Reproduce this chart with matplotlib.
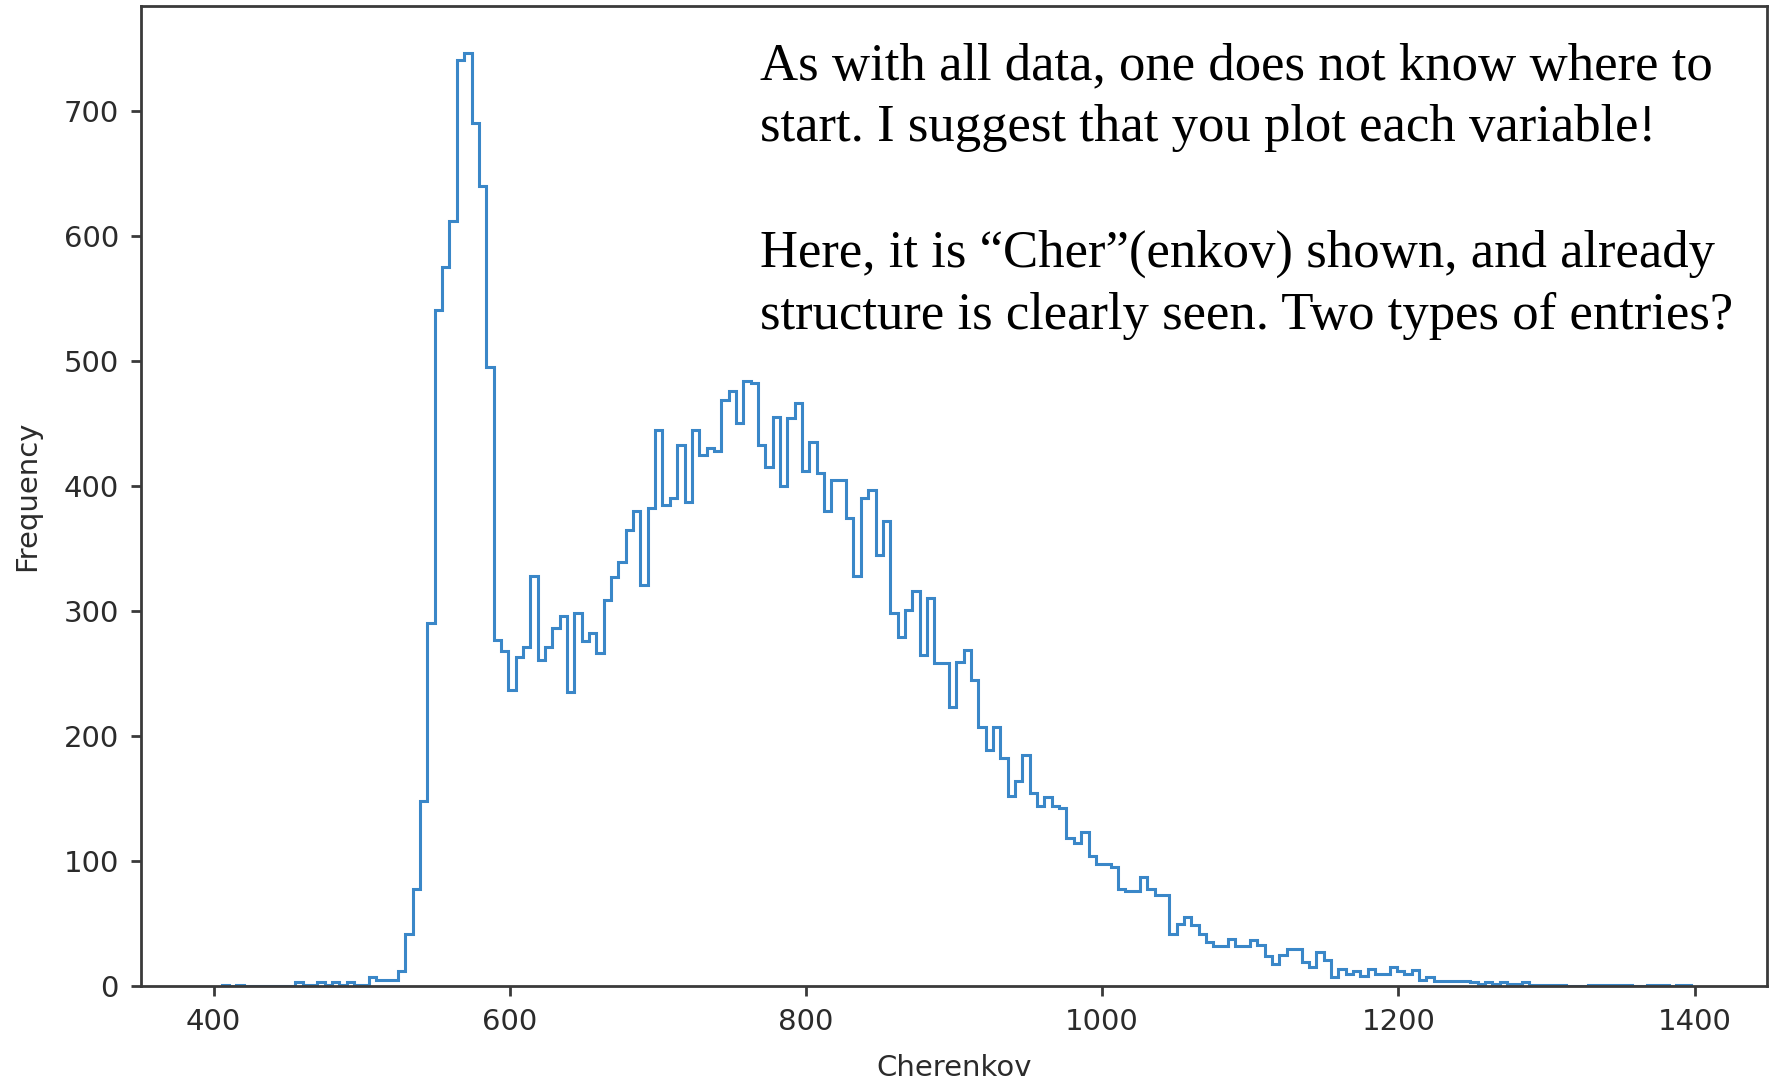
import numpy as np
import matplotlib
matplotlib.use("Agg")
import matplotlib.pyplot as plt

# histogram of the Cherenkov variable, 200 bins
x_min, x_max = 405.5, 1397.5
counts = [
    1, 0, 1, 0, 0, 0, 0, 0, 0, 0,
    3, 1, 1, 3, 1, 3, 1, 3, 1, 1,
    7, 5, 5, 5, 12, 42, 78, 148, 290, 541,
    575, 612, 741, 746, 690, 640, 495, 277, 268, 237,
    263, 271, 328, 261, 271, 286, 296, 235, 298, 276,
    282, 266, 309, 327, 339, 365, 380, 321, 382, 445,
    385, 390, 433, 387, 445, 425, 430, 428, 469, 476,
    450, 484, 482, 433, 415, 455, 400, 454, 466, 412,
    435, 410, 380, 405, 405, 374, 328, 390, 397, 345,
    372, 298, 279, 301, 316, 265, 310, 258, 258, 223,
    259, 269, 245, 207, 189, 207, 182, 152, 164, 185,
    154, 144, 151, 144, 142, 118, 114, 123, 104, 98,
    98, 95, 78, 76, 76, 87, 78, 73, 73, 42,
    50, 55, 49, 42, 35, 32, 32, 38, 32, 32,
    37, 33, 24, 18, 25, 30, 30, 19, 15, 27,
    21, 7, 14, 10, 12, 8, 14, 10, 10, 15,
    12, 10, 13, 5, 7, 4, 4, 4, 4, 4,
    3, 2, 3, 2, 3, 2, 2, 3, 1, 1,
    1, 1, 1, 0, 0, 0, 1, 1, 1, 1,
    1, 1, 0, 0, 1, 1, 1, 0, 1, 1,
]
counts = np.array(counts, dtype=float)
edges = np.linspace(x_min, x_max, len(counts) + 1)

note_lines = [
    "As with all data, one does not know where to",
    "start. I suggest that you plot each variable!",
    "",
    "Here, it is \u201cCher\u201d(enkov) shown, and already",
    "structure is clearly seen. Two types of entries?",
]

fig = plt.figure(figsize=(17.79, 10.84), dpi=100)
ax = fig.add_axes([0.0793, 0.0904, 0.914, 0.9041])

ax.hist(edges[:-1], bins=edges, weights=counts, histtype='step',
        color='#3a87c8', lw=2.2)

ax.set_xlim(351, 1449)
ax.set_ylim(0, 784)
ax.set_xticks([400, 600, 800, 1000, 1200, 1400])
ax.set_yticks([0, 100, 200, 300, 400, 500, 600, 700])

for s in ax.spines.values():
    s.set_linewidth(2.0)
    s.set_color('#3a3a3a')
ax.tick_params(labelsize=21, length=7, width=2, colors='#3a3a3a',
               labelcolor='#2b2b2b', pad=9)

ax.set_xlabel('Cherenkov', fontsize=21, color='#2b2b2b', labelpad=13)
ax.set_ylabel('Frequency', fontsize=21, color='#2b2b2b', labelpad=16)

fig.text(760 / 1779, 1 - 42 / 1084, "\n".join(note_lines),
         family=['Liberation Serif', 'DejaVu Serif'], fontsize=38,
         va='top', ha='left', linespacing=1.39, color='black')

fig.savefig('out.png', dpi=100)
